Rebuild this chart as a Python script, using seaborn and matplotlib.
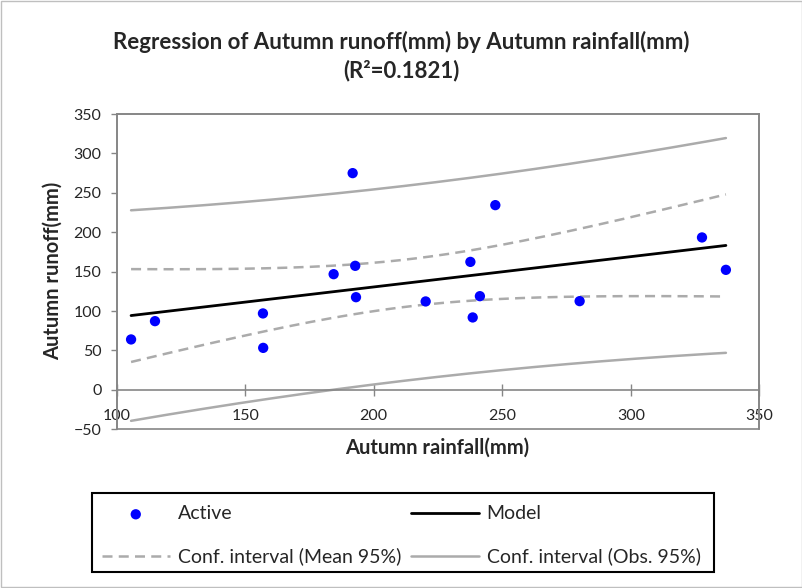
import numpy as np
import pandas as pd
import matplotlib
matplotlib.use('Agg')
import matplotlib.pyplot as plt
from matplotlib.patches import Rectangle
import seaborn as sns

rainfall = [105.6, 114.9, 156.9, 157.0, 184.4, 191.8, 192.8, 193.1,
            220.2, 237.6, 238.5, 241.3, 247.3, 280.1, 327.7, 337.0]
runoff = [64.0, 87.2, 97.0, 53.3, 146.8, 275.0, 157.4, 117.6,
          112.2, 162.4, 91.9, 118.9, 234.4, 112.6, 193.4, 152.3]
x_ticks = [100, 150, 200, 250, 300, 350]
y_ticks = [-50, 0, 50, 100, 150, 200, 250, 300, 350]
r2_text = "0.1821"

sns.set_theme(style="white")
plt.rcParams['font.family'] = ['Lato', 'DejaVu Sans']

df = pd.DataFrame({"rain": rainfall, "runoff": runoff})

# ordinary least squares fit and 95% intervals
x = df["rain"].to_numpy()
y = df["runoff"].to_numpy()
n = len(x)
slope, intercept = np.polyfit(x, y, 1)
resid = y - (intercept + slope * x)
s = np.sqrt((resid ** 2).sum() / (n - 2))
sxx = ((x - x.mean()) ** 2).sum()
t95 = 2.1448  # t(0.975, df=14)

xs = np.linspace(x.min(), x.max(), 200)
fit = intercept + slope * xs
se_mean = s * np.sqrt(1 / n + (xs - x.mean()) ** 2 / sxx)
se_obs = s * np.sqrt(1 + 1 / n + (xs - x.mean()) ** 2 / sxx)
curves = pd.DataFrame({
    "x": xs, "fit": fit,
    "mean_lo": fit - t95 * se_mean, "mean_hi": fit + t95 * se_mean,
    "obs_lo": fit - t95 * se_obs, "obs_hi": fit + t95 * se_obs,
})

fig = plt.figure(figsize=(8.03, 5.88), dpi=100)
ax = fig.add_axes([0.1453, 0.2699, 0.8003, 0.5362])

gray = '#ababab'
dash = (0, (4, 2.5))
sns.lineplot(data=curves, x="x", y="obs_hi", color=gray, lw=1.8, ax=ax,
             label="Conf. interval (Obs. 95%)")
sns.lineplot(data=curves, x="x", y="obs_lo", color=gray, lw=1.8, ax=ax)
sns.lineplot(data=curves, x="x", y="mean_hi", color=gray, lw=1.8, ax=ax,
             linestyle=dash, label="Conf. interval (Mean 95%)")
sns.lineplot(data=curves, x="x", y="mean_lo", color=gray, lw=1.8, ax=ax,
             linestyle=dash)
sns.lineplot(data=curves, x="x", y="fit", color='black', lw=2, ax=ax, label="Model")
sns.scatterplot(data=df, x="rain", y="runoff", color='#0000ff', s=55,
                edgecolor='none', ax=ax, label="Active", zorder=5)

ax.set_xlim(100, 350)
ax.set_ylim(-50, 350)
ax.set_xticks(x_ticks)
ax.set_yticks(y_ticks)
ax.set_xlabel("")
ax.set_ylabel("")

for sp in ['top', 'right', 'left']:
    ax.spines[sp].set_color('#868686')
    ax.spines[sp].set_linewidth(1.2)
ax.spines['bottom'].set_position(('data', 0))
ax.spines['bottom'].set_color('#868686')
ax.spines['bottom'].set_linewidth(1.2)
ax.add_patch(Rectangle((0, 0), 1, 1, transform=ax.transAxes, fill=False,
                       edgecolor='#868686', lw=1.2, clip_on=False))
ax.tick_params(axis='x', direction='inout', length=8, width=1, color='#868686',
               labelsize=11.5, pad=10, bottom=True)
ax.tick_params(axis='y', direction='out', length=4, width=1, color='#868686',
               labelsize=11.5, pad=7, left=True)

handles, labels = ax.get_legend_handles_labels()
order = ["Active", "Conf. interval (Mean 95%)", "Model", "Conf. interval (Obs. 95%)"]
hmap = dict(zip(labels, handles))
ax.get_legend().remove()
leg = fig.legend([hmap[k] for k in order], order, ncol=2, loc='center left',
                 bbox_to_anchor=(0.1267, 0.0893), fontsize=14, frameon=False,
                 handlelength=3.5, columnspacing=0.5, handletextpad=0.4,
                 labelspacing=1.3, borderpad=0, borderaxespad=0)
fig.add_artist(Rectangle((0.115, 0.0267), 0.7742, 0.1349, transform=fig.transFigure,
                         fill=False, edgecolor='black', lw=1.5))

fig.text(0.5, 0.928, "Regression of Autumn runoff(mm) by Autumn rainfall(mm)",
         ha='center', va='center', fontsize=16, fontweight='bold')
fig.text(0.5, 0.880, "(R\u00b2=" + r2_text + ")", ha='center', va='center',
         fontsize=16, fontweight='bold')
fig.text(0.545, 0.238, "Autumn rainfall(mm)", ha='center', va='center',
         fontsize=14.5, fontweight='bold')
fig.text(0.066, 0.54, "Autumn runoff(mm)", ha='center', va='center',
         rotation=90, fontsize=14.5, fontweight='bold')

fig.add_artist(Rectangle((0.001, 0.001), 0.998, 0.998, transform=fig.transFigure,
                         fill=False, edgecolor='#bfbfbf', lw=1))

fig.savefig("out.png", dpi=100)
